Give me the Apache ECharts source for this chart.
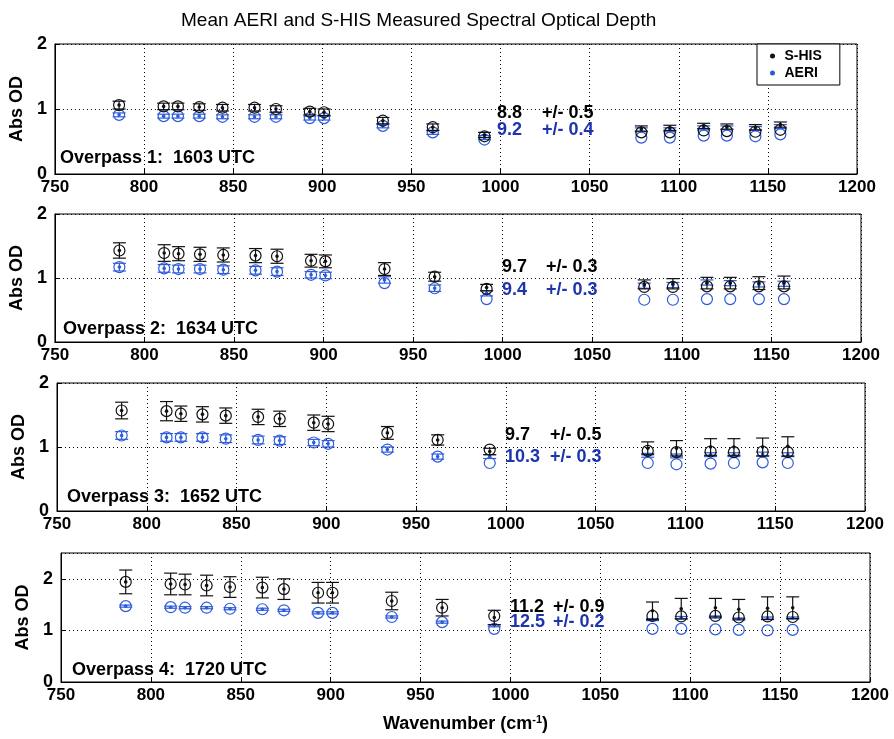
<!DOCTYPE html>
<html>
<head>
<meta charset="utf-8">
<title>Mean AERI and S-HIS Measured Spectral Optical Depth</title>
<script src="https://cdn.jsdelivr.net/npm/echarts@6/dist/echarts.min.js"></script>
</head>
<body style="margin:0;background:#fff">
<div id="main" style="width:894px;height:739px;"></div>
<script>
// wavenumbers (cm-1) of the microwindows
var wavenumber = [786, 811, 819, 831, 844, 862, 874, 893, 901, 934, 962, 991, 1079, 1095, 1114, 1127, 1143, 1157];

// overpass 1
var shisMean1 = [1.06, 1.04, 1.04, 1.03, 1.02, 1.02, 1.00, 0.96, 0.95, 0.82, 0.72, 0.60, 0.70, 0.71, 0.74, 0.73, 0.72, 0.76];
var shisErr1  = [0.06, 0.05, 0.05, 0.05, 0.05, 0.05, 0.05, 0.05, 0.05, 0.05, 0.05, 0.04, 0.04, 0.04, 0.04, 0.04, 0.04, 0.04];
var shisOD1   = [1.06, 1.04, 1.04, 1.03, 1.02, 1.02, 1.00, 0.96, 0.95, 0.82, 0.72, 0.58, 0.64, 0.64, 0.67, 0.66, 0.65, 0.68];
var aeriMean1 = [0.91, 0.89, 0.89, 0.89, 0.88, 0.88, 0.88, 0.86, 0.86, 0.74, 0.64, 0.56, 0.68, 0.68, 0.71, 0.71, 0.70, 0.73];
var aeriErr1  = [0.03, 0.03, 0.03, 0.03, 0.03, 0.03, 0.03, 0.03, 0.03, 0.03, 0.03, 0.03, 0.03, 0.03, 0.03, 0.03, 0.03, 0.03];
var aeriOD1   = [0.91, 0.89, 0.89, 0.89, 0.88, 0.88, 0.88, 0.86, 0.86, 0.74, 0.64, 0.53, 0.56, 0.56, 0.59, 0.59, 0.58, 0.61];

// overpass 2
var shisMean2 = [1.43, 1.39, 1.38, 1.37, 1.36, 1.35, 1.34, 1.27, 1.26, 1.14, 1.02, 0.85, 0.90, 0.91, 0.92, 0.92, 0.92, 0.93];
var shisErr2  = [0.12, 0.13, 0.11, 0.11, 0.11, 0.11, 0.11, 0.10, 0.10, 0.10, 0.07, 0.05, 0.07, 0.08, 0.09, 0.09, 0.10, 0.10];
var shisOD2   = [1.43, 1.39, 1.38, 1.37, 1.36, 1.35, 1.34, 1.27, 1.26, 1.14, 1.02, 0.83, 0.86, 0.86, 0.87, 0.87, 0.87, 0.87];
var aeriMean2 = [1.17, 1.15, 1.14, 1.14, 1.13, 1.12, 1.10, 1.05, 1.04, 0.97, 0.84, 0.76, 0.88, 0.89, 0.93, 0.92, 0.90, 0.91];
var aeriErr2  = [0.06, 0.06, 0.06, 0.06, 0.06, 0.06, 0.06, 0.05, 0.05, 0.05, 0.05, 0.04, 0.04, 0.04, 0.04, 0.04, 0.04, 0.04];
var aeriOD2   = [1.17, 1.15, 1.14, 1.14, 1.13, 1.12, 1.10, 1.05, 1.04, 0.92, 0.84, 0.67, 0.66, 0.66, 0.67, 0.67, 0.67, 0.67];

// overpass 3
var shisMean3 = [1.57, 1.56, 1.52, 1.51, 1.49, 1.47, 1.44, 1.38, 1.36, 1.22, 1.11, 0.93, 0.98, 0.98, 1.00, 1.00, 1.00, 1.01];
var shisErr3  = [0.13, 0.15, 0.12, 0.12, 0.12, 0.12, 0.12, 0.12, 0.12, 0.10, 0.08, 0.05, 0.10, 0.12, 0.13, 0.13, 0.14, 0.15];
var shisOD3   = [1.57, 1.56, 1.52, 1.51, 1.49, 1.47, 1.44, 1.38, 1.36, 1.22, 1.11, 0.96, 0.94, 0.92, 0.93, 0.92, 0.93, 0.92];
var aeriMean3 = [1.18, 1.15, 1.15, 1.15, 1.13, 1.11, 1.10, 1.07, 1.05, 0.96, 0.85, 0.85, 0.87, 0.86, 0.88, 0.88, 0.89, 0.88];
var aeriErr3  = [0.06, 0.06, 0.06, 0.06, 0.06, 0.06, 0.06, 0.05, 0.05, 0.04, 0.04, 0.03, 0.03, 0.03, 0.03, 0.03, 0.03, 0.03];
var aeriOD3   = [1.18, 1.15, 1.15, 1.15, 1.13, 1.11, 1.10, 1.07, 1.05, 0.96, 0.85, 0.75, 0.75, 0.73, 0.74, 0.75, 0.76, 0.75];

// overpass 4
var shisMean4 = [1.94, 1.90, 1.89, 1.87, 1.84, 1.83, 1.80, 1.73, 1.73, 1.57, 1.44, 1.25, 1.38, 1.42, 1.44, 1.41, 1.43, 1.44];
var shisErr4  = [0.23, 0.21, 0.20, 0.20, 0.20, 0.20, 0.20, 0.20, 0.20, 0.17, 0.16, 0.14, 0.17, 0.20, 0.18, 0.19, 0.22, 0.21];
var shisOD4   = [1.94, 1.90, 1.89, 1.87, 1.84, 1.83, 1.80, 1.73, 1.73, 1.57, 1.44, 1.28, 1.28, 1.27, 1.28, 1.25, 1.27, 1.26];
var aeriMean4 = [1.47, 1.45, 1.44, 1.44, 1.42, 1.41, 1.39, 1.34, 1.34, 1.26, 1.16, 1.09, 1.21, 1.25, 1.26, 1.22, 1.24, 1.24];
var aeriErr4  = [0.02, 0.02, 0.02, 0.02, 0.02, 0.02, 0.02, 0.02, 0.02, 0.02, 0.02, 0.02, 0.02, 0.02, 0.02, 0.02, 0.02, 0.02];
var aeriOD4   = [1.47, 1.45, 1.44, 1.44, 1.42, 1.41, 1.39, 1.34, 1.34, 1.26, 1.16, 1.03, 1.03, 1.03, 1.02, 1.01, 1.00, 1.01];

var overpassLabels = ['Overpass 1:  1603 UTC', 'Overpass 2:  1634 UTC', 'Overpass 3:  1652 UTC', 'Overpass 4:  1720 UTC'];
var shisRatio    = ['8.8', '9.7', '9.7', '11.2'];
var shisRatioErr = ['+/- 0.5', '+/- 0.3', '+/- 0.5', '+/- 0.9'];
var aeriRatio    = ['9.2', '9.4', '10.3', '12.5'];
var aeriRatioErr = ['+/- 0.4', '+/- 0.3', '+/- 0.3', '+/- 0.2'];
var yMax = [2, 2, 2, 2.5];

var FONT = '"Liberation Sans", Arial, Helvetica, sans-serif';
var BLACK = '#111';
var BLUE = '#2d5bdc';
var BLUE_TXT = '#1d34b0';
var DOTS = {type: [1, 3], color: '#000', width: 1};

var panels = [
    {mean: shisMean1, err: shisErr1, od: shisOD1, amean: aeriMean1, aerr: aeriErr1, aod: aeriOD1},
    {mean: shisMean2, err: shisErr2, od: shisOD2, amean: aeriMean2, aerr: aeriErr2, aod: aeriOD2},
    {mean: shisMean3, err: shisErr3, od: shisOD3, amean: aeriMean3, aerr: aeriErr3, aod: aeriOD3},
    {mean: shisMean4, err: shisErr4, od: shisOD4, amean: aeriMean4, aerr: aeriErr4, aod: aeriOD4}
];

// plot boxes (pixels)
var boxes = [
    {left: 50, width: 807, top: 44, height: 130},
    {left: 53, width: 808, top: 214, height: 128},
    {left: 57, width: 808, top: 383, height: 128},
    {left: 61, width: 809, top: 553, height: 129}
];
// text positions for each panel
var labelPos = [
    {ox: 60, oy: 158, rx: 497, ex: 542, y1: 113, y2: 130},
    {ox: 63, oy: 329, rx: 502, ex: 546, y1: 267, y2: 290},
    {ox: 67, oy: 497, rx: 505, ex: 550, y1: 435, y2: 457},
    {ox: 72, oy: 670, rx: 510, ex: 553, y1: 607, y2: 622}
];

// errorbar + open circle marker
function errRender(color) {
    return function (params, api) {
        var x = api.value(0), m = api.value(1), e = api.value(2), c = api.value(3);
        var top = api.coord([x, m + e]);
        var bot = api.coord([x, m - e]);
        var mid = api.coord([x, m]);
        var circ = api.coord([x, c]);
        var hw = 6.5;
        function ln(x1, y1, x2, y2) {
            return {type: 'line', shape: {x1: x1, y1: y1, x2: x2, y2: y2},
                    style: {stroke: color, lineWidth: 1.2}};
        }
        return {
            type: 'group',
            children: [
                ln(top[0], top[1], bot[0], bot[1]),
                ln(top[0] - hw, top[1], top[0] + hw, top[1]),
                ln(bot[0] - hw, bot[1], bot[0] + hw, bot[1]),
                {type: 'circle', shape: {cx: mid[0], cy: mid[1], r: 1.8}, style: {fill: color}},
                {type: 'circle', shape: {cx: circ[0], cy: circ[1], r: 5.5},
                 style: {fill: null, stroke: color, lineWidth: 1.2}}
            ]
        };
    };
}

function rows(mean, err, od) {
    return wavenumber.map(function (w, i) { return [w, mean[i], err[i], od[i]]; });
}

var grids = [], xAxes = [], yAxes = [], series = [], graphics = [];

panels.forEach(function (p, i) {
    grids.push({left: boxes[i].left, width: boxes[i].width, top: boxes[i].top, height: boxes[i].height,
                show: true, borderColor: '#000', borderWidth: 1});
    var xa = {
        gridIndex: i, type: 'value', min: 750, max: 1200, interval: 50,
        axisLine: {lineStyle: {color: '#000'}},
        axisTick: {inside: true, length: 5, lineStyle: {color: '#000'}},
        axisLabel: {color: '#000', fontSize: 17, fontWeight: 'bold', fontFamily: FONT, margin: 5,
                    formatter: function (v) { return String(v); }},
        splitLine: {show: true, lineStyle: DOTS}
    };
    if (i === 3) {
        xa.name = 'Wavenumber (cm{sup|-1})';
        xa.nameLocation = 'middle';
        xa.nameGap = 32;
        xa.nameTextStyle = {color: '#000', fontSize: 18, fontWeight: 'bold', fontFamily: FONT,
            rich: {sup: {fontSize: 11, fontWeight: 'bold', fontFamily: FONT, color: '#000', verticalAlign: 'top', padding: [0, 0, 10, 0]}}};
    }
    xAxes.push(xa);
    yAxes.push({
        gridIndex: i, type: 'value', min: 0, max: yMax[i], interval: 1,
        name: 'Abs OD', nameLocation: 'middle', nameGap: 24,
        nameTextStyle: {color: '#000', fontSize: 18, fontWeight: 'bold', fontFamily: FONT},
        axisLine: {lineStyle: {color: '#000'}},
        axisTick: {inside: true, length: 5, lineStyle: {color: '#000'}},
        axisLabel: {color: '#000', fontSize: 18, fontWeight: 'bold', fontFamily: FONT, margin: 8,
                    showMaxLabel: yMax[i] === 2},
        splitLine: {show: true, lineStyle: DOTS}
    });
    series.push({
        name: 'S-HIS', type: 'custom', xAxisIndex: i, yAxisIndex: i,
        itemStyle: {color: BLACK},
        renderItem: errRender(BLACK), encode: {x: 0, y: [1, 3]},
        data: rows(p.mean, p.err, p.od), z: 3
    });
    series.push({
        name: 'AERI', type: 'custom', xAxisIndex: i, yAxisIndex: i,
        itemStyle: {color: BLUE},
        renderItem: errRender(BLUE), encode: {x: 0, y: [1, 3]},
        data: rows(p.amean, p.aerr, p.aod), z: 2
    });

    var lp = labelPos[i];
    var f = 'bold 18px ' + FONT;
    graphics.push(
        {type: 'text', x: lp.ox, y: lp.oy, z: 10, style: {text: overpassLabels[i], font: f, fill: '#000', verticalAlign: 'middle'}},
        {type: 'text', x: lp.rx, y: lp.y1, z: 10, style: {text: shisRatio[i], font: f, fill: '#000', verticalAlign: 'middle'}},
        {type: 'text', x: lp.ex, y: lp.y1, z: 10, style: {text: shisRatioErr[i], font: f, fill: '#000', verticalAlign: 'middle'}},
        {type: 'text', x: lp.rx, y: lp.y2, z: 10, style: {text: aeriRatio[i], font: f, fill: BLUE_TXT, verticalAlign: 'middle'}},
        {type: 'text', x: lp.ex, y: lp.y2, z: 10, style: {text: aeriRatioErr[i], font: f, fill: BLUE_TXT, verticalAlign: 'middle'}}
    );
});

var myChart = echarts.init(document.getElementById('main'));

var option = {
    animation: false,
    backgroundColor: '#fff',
    textStyle: {fontFamily: FONT},
    title: {
        text: 'Mean AERI and S-HIS Measured Spectral Optical Depth',
        left: 176, top: 6,
        textStyle: {fontSize: 19, fontWeight: 'normal', color: '#000', fontFamily: FONT}
    },
    legend: {
        left: 757, top: 44, orient: 'vertical',
        itemGap: 3, itemWidth: 14, itemHeight: 5,
        padding: [5, 18, 5, 13],
        borderColor: '#000', borderWidth: 1, backgroundColor: '#fff',
        selectedMode: false, z: 20,
        textStyle: {fontSize: 14, fontWeight: 'bold', color: '#000', fontFamily: FONT},
        data: [
            {name: 'S-HIS', icon: 'circle', itemStyle: {color: BLACK}},
            {name: 'AERI', icon: 'circle', itemStyle: {color: BLUE}}
        ]
    },
    grid: grids,
    xAxis: xAxes,
    yAxis: yAxes,
    series: series,
    graphic: graphics
};

myChart.setOption(option);
</script>
</body>
</html>
